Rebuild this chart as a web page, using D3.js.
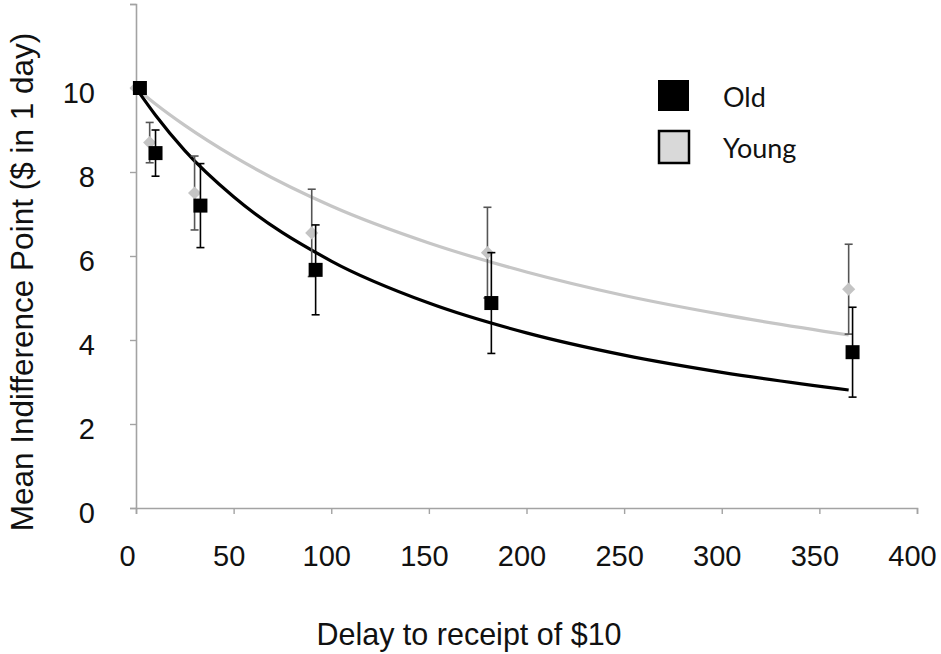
<!DOCTYPE html>
<html>
<head>
<meta charset="utf-8">
<script src="https://cdn.jsdelivr.net/npm/d3@7"></script>
<style>
  html, body { margin: 0; padding: 0; background: #fff; }
  svg { display: block; }
</style>
</head>
<body>
<svg id="chart" width="941" height="654"></svg>
<script>
// ---- data ----
const seriesNames = ["Old", "Young"];
const xTicks = [0, 50, 100, 150, 200, 250, 300, 350, 400];
const yTicks = [0, 2, 4, 6, 8, 10, 12];
const yTickLabels = ["0", "2", "4", "6", "8", "10", ""];

const delaysYoung = [0, 7, 30, 90, 180, 365];
const meanYoung   = [10, 8.7, 7.5, 6.55, 6.08, 5.21];
const errYoung    = [0, 0.48, 0.88, 1.04, 1.08, 1.07];

const delaysOld = [2, 10, 33, 92, 182, 367];
const meanOld   = [10, 8.45, 7.2, 5.67, 4.88, 3.71];
const errOld    = [0, 0.55, 1.0, 1.07, 1.2, 1.07];

// fitted curves
const fitDelays = [1, 10, 25, 50, 100, 150, 200, 250, 300, 365];
const fitOld    = [9.93, 9.35, 8.51, 7.41, 5.88, 4.88, 4.17, 3.64, 3.23, 2.81];
const fitYoung  = [9.96, 9.62, 9.11, 8.37, 7.19, 6.31, 5.62, 5.06, 4.61, 4.12];

// ---- layout ----
const svg = d3.select("#chart");
const x = d3.scaleLinear().domain([0, 400]).range([136, 917]);
const y = d3.scaleLinear().domain([0, 12]).range([508, 4]);
const axisColor = "#a3a3a3";
const font = "'Liberation Sans', Arial, sans-serif";

// axes
const xAxis = svg.append("g").attr("transform", `translate(0,${y(0)})`)
  .call(d3.axisBottom(x).tickValues(xTicks).tickSize(6).tickFormat(d => d));
xAxis.select(".domain").attr("stroke", axisColor).attr("stroke-width", 1.6);
xAxis.selectAll(".tick line").attr("stroke", axisColor).attr("stroke-width", 1.4);
xAxis.selectAll(".tick text")
  .attr("fill", "#111").attr("font-family", font).attr("font-size", 29)
  .attr("dy", 0).attr("y", 58).attr("dx", (d) => d === 0 ? -9 : -5);

const yAxis = svg.append("g").attr("transform", `translate(${x(0)},0)`)
  .call(d3.axisLeft(y).tickValues(yTicks).tickSize(6).tickFormat((d, i) => yTickLabels[i]));
yAxis.select(".domain").attr("stroke", axisColor).attr("stroke-width", 1.6);
yAxis.selectAll(".tick line").attr("stroke", axisColor).attr("stroke-width", 1.4);
yAxis.selectAll(".tick text")
  .attr("fill", "#111").attr("font-family", font).attr("font-size", 29)
  .attr("x", -41).attr("dy", "0.32em").attr("transform", "translate(0,5)");

// axis titles
svg.append("text")
  .attr("x", 469).attr("y", 645)
  .attr("text-anchor", "middle")
  .attr("font-family", font).attr("font-size", 30.5).attr("fill", "#111")
  .text("Delay to receipt of $10");
svg.append("text")
  .attr("transform", "translate(33,282) rotate(-90)")
  .attr("text-anchor", "middle")
  .attr("font-family", font).attr("font-size", 31.5).attr("fill", "#111")
  .text("Mean Indifference Point ($ in 1 day)");

// fitted curves
const line = d3.line().x(d => x(d[0])).y(d => y(d[1])).curve(d3.curveMonotoneX);
svg.append("path")
  .datum(fitDelays.map((d, i) => [d, fitYoung[i]]))
  .attr("d", line).attr("fill", "none").attr("stroke", "#c6c6c6").attr("stroke-width", 3.2);
svg.append("path")
  .datum(fitDelays.map((d, i) => [d, fitOld[i]]))
  .attr("d", line).attr("fill", "none").attr("stroke", "#000").attr("stroke-width", 3.2);

// error bars helper
function errorBars(delays, means, errs, color) {
  const g = svg.append("g").attr("stroke", color).attr("stroke-width", 1.6);
  delays.forEach((d, i) => {
    if (errs[i] <= 0) return;
    const cx = x(d), y1 = y(means[i] + errs[i]), y2 = y(means[i] - errs[i]);
    g.append("line").attr("x1", cx).attr("x2", cx).attr("y1", y1).attr("y2", y2);
    g.append("line").attr("x1", cx - 4).attr("x2", cx + 4).attr("y1", y1).attr("y2", y1);
    g.append("line").attr("x1", cx - 4).attr("x2", cx + 4).attr("y1", y2).attr("y2", y2);
  });
}

// Young: error bars + diamonds
errorBars(delaysYoung, meanYoung, errYoung, "#555");
svg.append("g").selectAll("path")
  .data(delaysYoung.map((d, i) => [d, meanYoung[i]]))
  .join("path")
  .attr("transform", d => `translate(${x(d[0])},${y(d[1])})`)
  .attr("d", d3.symbol(d3.symbolDiamond2, 110))
  .attr("fill", "#c4c4c4");

// Old: error bars + squares
errorBars(delaysOld, meanOld, errOld, "#000");
svg.append("g").selectAll("rect")
  .data(delaysOld.map((d, i) => [d, meanOld[i]]))
  .join("rect")
  .attr("x", d => x(d[0]) - 7).attr("y", d => y(d[1]) - 7)
  .attr("width", 14).attr("height", 14)
  .attr("fill", "#000");

// legend
const legendFont = "Lato, 'Open Sans', sans-serif";
const legend = svg.append("g");
legend.append("rect").attr("x", 658).attr("y", 80).attr("width", 31).attr("height", 31).attr("fill", "#000");
legend.append("rect").attr("x", 659).attr("y", 131).attr("width", 30).attr("height", 32)
  .attr("fill", "#d9d9d9").attr("stroke", "#000").attr("stroke-width", 2.5);
legend.selectAll("text.lg")
  .data(seriesNames)
  .join("text")
  .attr("class", "lg")
  .attr("x", 723).attr("y", (d, i) => 98 + i * 51)
  .attr("dy", "0.35em")
  .attr("font-family", legendFont).attr("font-size", 27).attr("fill", "#111")
  .text(d => d);
</script>
</body>
</html>
